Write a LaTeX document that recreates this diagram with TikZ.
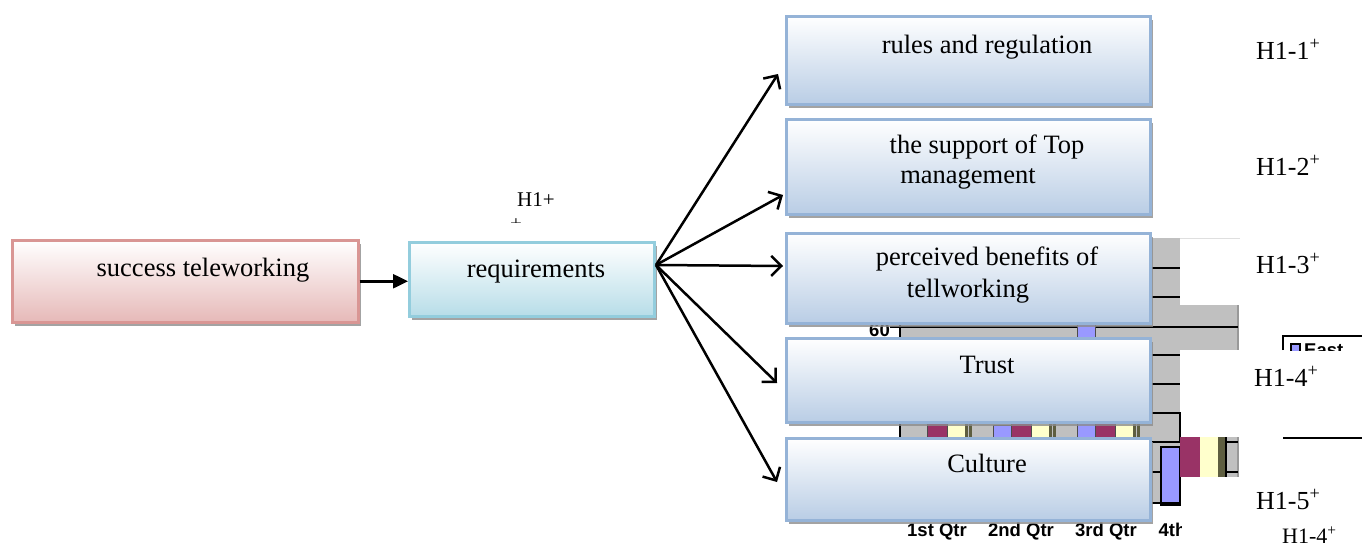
\documentclass[tikz,border=0pt]{standalone}
\usepackage{fontspec}
\setmainfont{Liberation Serif}
\newfontfamily\chartfont{Liberation Sans}
\usetikzlibrary{arrows.meta,shadows}

\definecolor{redline}{HTML}{D99694}
\definecolor{redfill}{HTML}{E6B9B8}
\definecolor{cyanline}{HTML}{93CDDD}
\definecolor{cyanfill}{HTML}{B7DDE8}
\definecolor{blueline}{HTML}{95B3D7}
\definecolor{bluefill}{HTML}{B9CDE5}
\definecolor{chartgray}{HTML}{C0C0C0}
\definecolor{barblue}{HTML}{9999FF}
\definecolor{barmaroon}{HTML}{993366}
\definecolor{baryellow}{HTML}{FFFFCC}
\definecolor{bardark}{HTML}{5E5E40}

\begin{document}
\begin{tikzpicture}[x=1pt,y=-1pt,
    box/.style={draw,line width=2.5pt,anchor=north west,inner sep=0pt,
        top color=white,
        drop shadow={shadow xshift=3pt,shadow yshift=-4pt,fill=black!45,opacity=.8}},
    stbox/.style={box,draw=redline,bottom color=redfill},
    reqbox/.style={box,draw=cyanline,bottom color=cyanfill},
    hbox/.style={box,draw=blueline,bottom color=bluefill,minimum width=364pt},
    txt/.style={anchor=base,inner sep=0pt,font=\fontsize{26.5}{31}\selectfont},
    hyp/.style={anchor=base west,inner sep=0pt,font=\fontsize{26}{31}\selectfont},
    qtr/.style={anchor=base,inner sep=0pt,font=\chartfont\bfseries\fontsize{18.5}{22}\selectfont},
    arr/.style={line width=2.5pt,-{Straight Barb[length=10pt,width=20pt]}},
]
\useasboundingbox (0,0) rectangle (1362,546);

% the chart that shows behind the boxes
\fill[chartgray] (900,238) rectangle (1180,503);
\fill[chartgray] (1180,305) rectangle (1238,350);
\fill[chartgray] (1180,437) rectangle (1238,477);
\draw[gray!25] (1180,238) -- (1240,238);
\draw[gray!80,line width=1.5pt] (1238,305) -- (1238,350) (1238,437) -- (1238,477);
\foreach \y in {268,297,355,384}
    \draw[line width=1.5pt] (900,\y) -- (1180,\y);
\foreach \y in {442,472}
    \draw[line width=1.5pt] (900,\y) -- (1238,\y);
\draw[line width=1.5pt] (900,327) -- (1238,327);
\draw[line width=1.5pt] (900,413) -- (1180,413) -- (1180,443);
\foreach \g/\b in {909/443,993/425,1077/240}{
    \filldraw[fill=barblue,draw=black!70] (\g,\b) rectangle (\g+18,503);
    \filldraw[fill=barmaroon,draw=black!70] (\g+18,395) rectangle (\g+38,503);
    \filldraw[fill=baryellow,draw=black!70] (\g+38,380) rectangle (\g+56,503);
    \fill[bardark] (\g+56,380) rectangle (\g+63,503);
    \draw[line width=1.5pt,chartgray] (\g+59.5,380) -- (\g+59.5,503);
}
\filldraw[fill=barblue,draw=black,line width=1.5pt] (1161,447) rectangle (1180,505);
\fill[barmaroon] (1180,437) rectangle (1200,477);
\fill[baryellow] (1200,437) rectangle (1218,477);
\fill[bardark] (1218,437) rectangle (1226,477);
\draw[line width=1.5pt] (1226,437) -- (1226,477);
\draw[line width=1.5pt] (900,238) -- (900,503) -- (1180,503);
\draw[line width=1.5pt] (890,327) -- (900,327) (890,413) -- (900,413);
\node[qtr,anchor=east] (l60) at (890,330) {60};
\node[qtr,anchor=east] (l30) at (890,416) {30};
\node[qtr] (q1) at (937,536) {1st Qtr};
\node[qtr] (q2) at (1021,536) {2nd Qtr};
\node[qtr] (q3) at (1106,536) {3rd Qtr};
\begin{scope}
    \clip (1150,510) rectangle (1181,546);
    \node[qtr] (q4) at (1189,536) {4th Qtr};
\end{scope}
\draw[line width=1.5pt] (1283,350) -- (1283,336) -- (1362,336);
\draw[line width=1.5pt] (1283,438) -- (1362,438);
\begin{scope}
    \clip (1280,330) rectangle (1362,350);
    \filldraw[fill=barblue,draw=black,line width=1.2pt] (1291,344) rectangle (1300,354);
    \node[qtr,anchor=base west] (east) at (1304,356) {East};
\end{scope}

% boxes
\node[stbox,minimum width=346pt,minimum height=82pt] (st) at (11,239) {};
\node[reqbox,minimum width=245pt,minimum height=74pt] (req) at (408,241) {};
\node[hbox,minimum height=88pt] (rules) at (785,15) {};
\node[hbox,minimum height=95pt] (top) at (785,118) {};
\node[hbox,minimum height=90pt] (benefit) at (785,232) {};
\node[hbox,minimum height=84pt] (trust) at (785,337) {};
\node[hbox,minimum height=82pt] (culture) at (785,437) {};

\node[txt] (stT) at (203,276) {success teleworking};
\node[txt] (reqT) at (536,277) {requirements};
\node[txt] (rulesT) at (987,53) {rules and regulation};
\node[txt] (topT) at (987,153) {the support of Top};
\node[txt] (topT2) at (968,183) {management};
\node[txt] (benefitT) at (987,265) {perceived benefits of};
\node[txt] (benefitT2) at (968,297) {tellworking};
\node[txt] (trustT) at (987,373) {Trust};
\node[txt] (cultureT) at (987,472) {Culture};

% hypotheses
\node[hyp,font=\fontsize{21}{25}\selectfont] (h1) at (517,206) {H1+};
\begin{scope}
    \clip (505,205) rectangle (530,222);
    \node[inner sep=0pt,font=\fontsize{21}{25}\selectfont] (h1p) at (516,225) {+};
\end{scope}
\node[hyp] (h11) at (1256,59) {H1-1\textsuperscript{+}};
\node[hyp] (h12) at (1256,175) {H1-2\textsuperscript{+}};
\node[hyp] (h13) at (1256,273) {H1-3\textsuperscript{+}};
\node[hyp] (h14) at (1254,386) {H1-4\textsuperscript{+}};
\node[hyp] (h15) at (1256,509) {H1-5\textsuperscript{+}};
\node[hyp,font=\fontsize{22}{26}\selectfont] (h14b) at (1282,543) {H1-4\textsuperscript{+}};

% connectors
\draw[line width=2.5pt,-{Triangle[length=15pt,width=14pt]}] (st.east) -- (st.east -| req.west);
\coordinate (src) at (656,265);
\coordinate (e1) at (778,74);
\coordinate (e2) at (783,195);
\coordinate (e3) at (783,266);
\coordinate (e4) at (777,383);
\coordinate (e5) at (777,482);
\foreach \e in {e1,e2,e3,e4,e5}
    \draw[arr] (src) -- (\e);
\end{tikzpicture}
\end{document}
